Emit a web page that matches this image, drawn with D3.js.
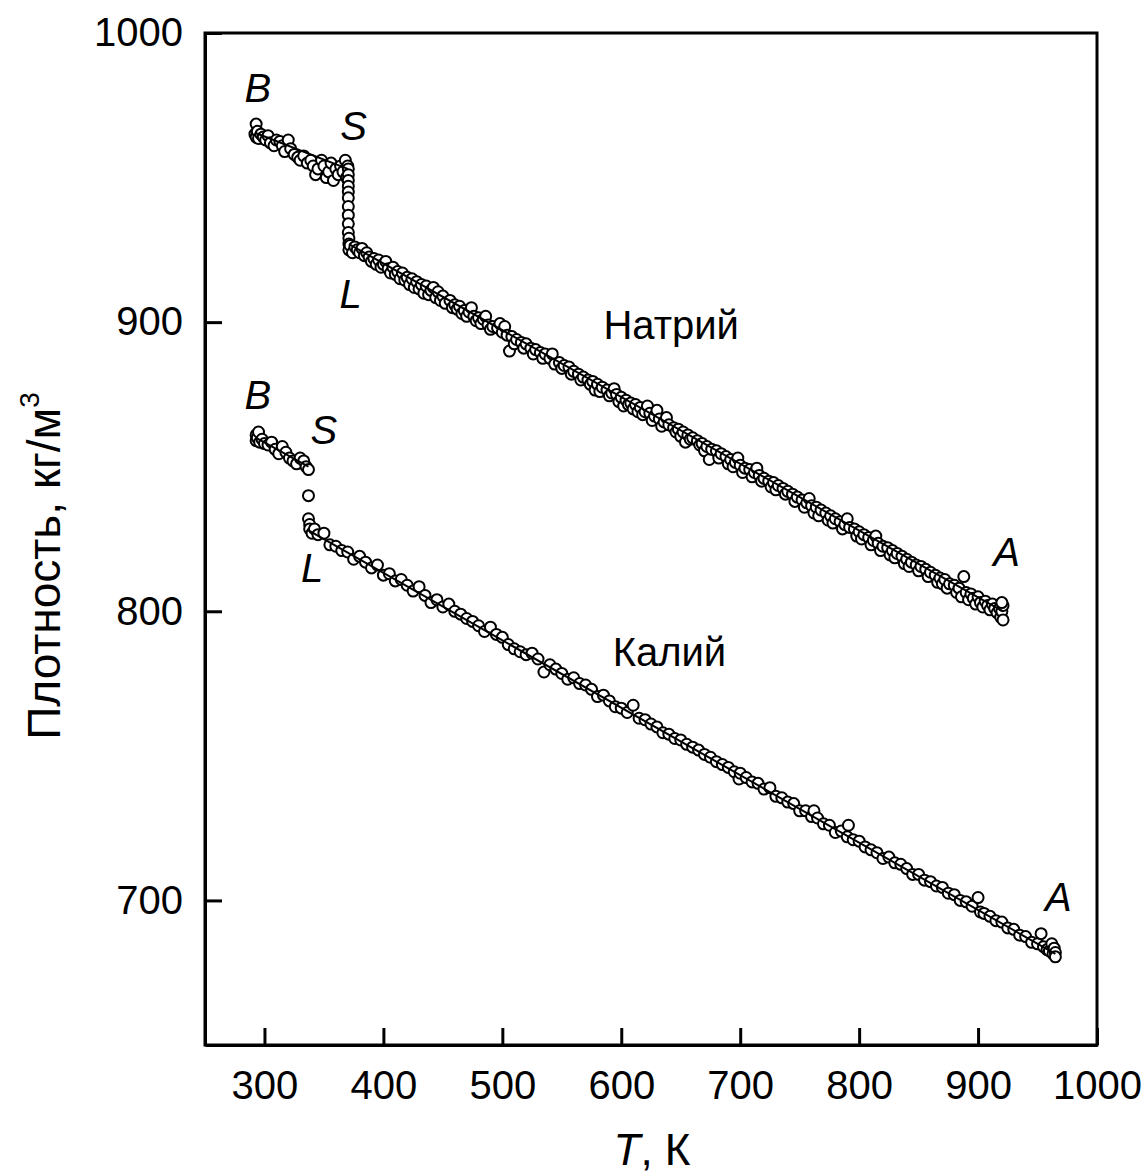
<!DOCTYPE html>
<meta charset="utf-8">
<style>
body { margin: 0; background: #fff; }
svg text { font-family: "Liberation Sans", Arial, sans-serif; fill: #000; }
.axis path, .axis line { stroke: #000; stroke-width: 3px; }
.axis text { font-size: 40px; }
.fit { fill: none; stroke: #000; stroke-width: 2px; }
.pt { fill: #fff; stroke: #000; stroke-width: 2px; }
.lbl { font-size: 40px; }
</style>
<body>
<script src="https://d3js.org/d3.v7.min.js"></script>
<script>

// tick values
var xTicks = [300, 400, 500, 600, 700, 800, 900, 1000];
var yTicks = [700, 800, 900, 1000];

// sodium: solid, melting step, liquid  [T, density]
var naSolid = [[292,965],[293,968.5],[293,964],[294,966],[295,963.5],[297,965],[299,964],[301,963],
  [303,964.5],[305,962],[308,961],[310,963],[313,962.5],[315,961],[317,959],[320,963],[322,960],
  [325,958],[328,957],[330,956],[333,957.5],[336,955],[339,956],[341,954],[343,951],[345,953],
  [348,956],[350,954],[352,950],[354,952],[356,955],[358,949],[360,953],[362,951],[364,954],
  [366,952],[368,956],[369,950],[370,954]];
var naMelt = [[370.5,953],[370.5,951],[370.5,949],[370.5,947],[370.5,945],[370.5,943],[370.5,940],
  [370.5,937],[370.5,934],[370.5,931],[371,929],[371,927],[371,925]];
var naLiquid = [[372,926.5],[374,924],[376,926],[378,925],[380,924],[382,925.5],[384,923],[386,924],
  [388,922.5],[390,921],[392,922],[394,920],[396,921.5],[398,919],[400,920],[402,921],[404,918.5],
  [406,917],[408,919],[410,916.5],[412,917.5],[414,915],[416,917],[418,914.5],[420,915.5],[422,913],
  [424,915],[426,912],[428,914],[430,911.5],[432,913],[434,910],[436,912.5],[438,909.5],[440,911],
  [442,912],[444,908.5],[446,910.5],[448,907.5],[450,909],[452,906.5],[456,907.5],[458,905],[460,906],
  [462,904.5],[464,905.5],[466,903],[468,904],[470,902],[472,903.5],[474,905],[476,902],[478,900.5],
  [480,901.5],[482,899.5],[484,901],[486,902],[488,899],[490,897.5],[492,898.5],[496,898],[498,899.5],
  [500,896.5],[502,898.5],[504,895.5],[506,890],[508,895],[510,892.5],[512,894],[516,893],[518,891],
  [520,892.5],[524,891],[526,889],[528,890.5],[532,889.5],[534,887.5],[536,889],[540,887.5],[542,889],
  [544,885.5],[548,886],[550,884],[552,885],[556,884.5],[558,882],[560,883],[564,882],[566,880],
  [568,881],[572,880],[574,878.5],[576,879.5],[578,876.5],[580,878.5],[582,876],[584,877.5],[588,876.5],
  [590,874.5],[592,875.5],[594,877],[596,875],[598,872.5],[600,874],[602,871],[604,873],[606,871.5],
  [608,872],[610,870],[612,871.5],[614,869],[616,870.5],[618,868],[620,869],[622,871],[624,868.5],
  [626,866],[628,867.5],[630,869.5],[632,866.5],[634,864],[636,865.5],[638,867],[640,864.5],[644,863.5],
  [646,862],[648,863],[650,860.5],[652,862],[654,858.5],[656,861],[658,859.5],[660,860],[664,859],
  [666,857.5],[668,858],[670,855.5],[672,857],[674,852.5],[676,856],[680,855.5],[682,853],[684,854.5],
  [688,853.5],[690,851],[692,852.5],[694,850],[696,851.5],[698,853],[700,850.5],[702,848],[704,849.5],
  [708,849],[710,846.5],[712,848],[714,849.5],[716,847],[718,845],[720,846],[724,845],[726,843],
  [728,844.5],[730,842],[732,843.5],[736,842.5],[738,840.5],[740,841.5],[744,840.5],[746,838],
  [748,839.5],[752,838.5],[754,836],[756,837.5],[758,839],[760,836.5],[762,834],[764,836],[766,833],
  [768,835],[772,834],[774,831.5],[776,833],[778,830.5],[780,832],[784,831],[786,828.5],[788,830],
  [790,832],[792,829],[796,828.5],[798,826],[800,827.5],[802,825],[804,826.5],[808,825.5],[810,823],
  [812,824.5],[814,826],[816,823.5],[818,821],[820,822.5],[824,822],[826,819.5],[828,821],[830,818.5],
  [832,820],[836,819],[838,816.5],[840,818],[842,815.5],[844,817],[848,816],[850,814],[852,815.5],
  [856,814.5],[858,812],[860,813.5],[864,812.5],[866,810],[868,811.5],[870,809.5],[872,811],[874,808],
  [876,809.5],[880,809],[882,806.5],[884,808],[886,805],[888,812],[890,806.5],[892,804],[894,806],
  [896,804.5],[898,802.5],[900,805],[902,803],[904,801.5],[906,803.5],[908,802],[910,800.5],[912,802.5],
  [914,801],[916,799.5],[918,801],[919,798],[920,800],[921,797],[921,802],[920,803]];

// potassium
var kSolid = [[293,861],[293,859],[294,860],[295,862],[296,858.5],[298,859.5],[300,858],[303,857.5],
  [306,858.5],[309,856],[312,854.5],[315,857],[318,855],[321,853],[324,852],[327,851],[330,853],
  [333,852],[335,850],[337,849]];
var kMelt = [[337,840],[337,832],[338,830],[338,828.5]];
var kLiquid = [[340,827],[342,828.5],[345,826.5],[350,827],[355,823],[360,822.5],[365,821],[370,820.5],
  [375,818],[380,819],[385,817],[390,815],[395,816],[400,812.5],[405,813],[410,810.5],[415,811],
  [420,809],[425,807],[430,808.5],[435,805.5],[440,803],[445,804],[450,801.5],[455,802.5],[460,800],
  [465,799],[470,797.5],[475,796.5],[480,795],[485,793],[490,794.5],[495,792],[500,791],[505,788.5],
  [510,787],[515,786],[520,785],[525,785.5],[530,783.5],[535,779],[540,781.5],[545,780],[550,778.5],
  [555,776.5],[560,777],[565,775],[570,774.5],[575,773],[580,770.5],[585,771],[590,769],[595,767],
  [600,766.5],[605,765],[610,767.5],[615,763],[620,762.5],[625,761],[630,760],[635,758],[640,757.5],
  [645,756],[650,755.5],[655,754],[660,753],[665,752],[670,750.5],[675,749.5],[680,748],[685,747],
  [690,746],[695,744.5],[699,742],[700,744],[705,742.5],[710,741],[715,740.5],[720,738.5],[725,739],
  [730,736],[735,735.5],[740,734],[745,733.5],[750,731],[755,731],[760,729],[762,731],[765,728.5],
  [770,726.5],[775,726],[780,723.5],[785,724],[790,722],[791,726],[795,721],[800,720.5],[805,718.5],
  [810,717.5],[815,716.5],[820,714.5],[825,715],[830,713],[835,712.5],[840,711],[845,709],[850,709],
  [855,707],[860,706.5],[865,705],[870,704.5],[875,702.5],[880,702],[885,700],[890,699.5],[895,698],
  [900,701],[902,696],[905,695.5],[910,694.5],[915,693],[920,692.5],[925,690.5],[930,690],[935,688],
  [940,687.5],[945,685.5],[950,685],[953,688.5],[955,684],[958,683],[960,682.5],[962,685],[963,681.5],
  [964,683.5],[965,682],[965,680.5]];

// fitted lines
var naSolidFit = [[292,965.5],[370,953]];
var naLiquidFit = [[371,927],[921,800]];
var kSolidFit = [[293,860],[337,850]];
var kLiquidFit = [[337,828],[965,681.5]];

// point labels
var labels = [
  {t: "B", T: 294.5, r: 976, it: true}, {t: "S", T: 375, r: 963, it: true},
  {t: "L", T: 372.5, r: 905, it: true}, {t: "A", T: 924, r: 815.5, it: true},
  {t: "Натрий", T: 642, r: 894, it: false},
  {t: "B", T: 294.5, r: 870, it: true}, {t: "S", T: 350, r: 858, it: true},
  {t: "L", T: 340, r: 810, it: true}, {t: "A", T: 967.5, r: 696.5, it: true},
  {t: "Калий", T: 640.5, r: 781, it: false}
];

var margin = {top: 33, right: 49, bottom: 131, left: 205},
    width = 1146 - margin.left - margin.right,
    height = 1176 - margin.top - margin.bottom;

var x = d3.scaleLinear().domain([250, 1000]).range([0, width]);
var y = d3.scaleLinear().domain([650, 1000]).range([height, 0]);

var svg = d3.select("body").append("svg")
    .attr("width", 1146)
    .attr("height", 1176)
  .append("g")
    .attr("transform", "translate(" + margin.left + "," + margin.top + ")");

// axes, ticks pointing inward
svg.append("g")
    .attr("class", "axis")
    .attr("transform", "translate(0," + height + ")")
    .call(d3.axisBottom(x).tickValues(xTicks).tickFormat(d3.format("d"))
      .tickSizeInner(-17).tickSizeOuter(0).tickPadding(26));
svg.append("g")
    .attr("class", "axis")
    .call(d3.axisLeft(y).tickValues(yTicks).tickFormat(d3.format("d"))
      .tickSizeInner(-17).tickSizeOuter(0).tickPadding(22));

// frame
svg.append("rect")
    .attr("width", width).attr("height", height)
    .attr("fill", "none").attr("stroke", "#000").attr("stroke-width", 3);

var line = d3.line()
    .x(function(d) { return x(d[0]); })
    .y(function(d) { return y(d[1]); });

// points
var allPts = [].concat(naSolid, naMelt, naLiquid, kSolid, kMelt, kLiquid);
svg.selectAll("circle.pt")
    .data(allPts)
  .enter().append("circle")
    .attr("class", "pt")
    .attr("cx", function(d) { return x(d[0]); })
    .attr("cy", function(d) { return y(d[1]); })
    .attr("r", 5.5);

// fit lines on top
[naSolidFit, naLiquidFit, kSolidFit, kLiquidFit].forEach(function(f) {
  svg.append("path").attr("class", "fit").attr("d", line(f));
});

// labels
svg.selectAll("text.lbl")
    .data(labels)
  .enter().append("text")
    .attr("class", "lbl")
    .attr("x", function(d) { return x(d.T); })
    .attr("y", function(d) { return y(d.r); })
    .attr("text-anchor", "middle")
    .style("font-style", function(d) { return d.it ? "italic" : "normal"; })
    .text(function(d) { return d.t; });

// x title
var xt = svg.append("text")
    .attr("x", 652 - margin.left)
    .attr("y", 1165 - margin.top)
    .attr("text-anchor", "middle")
    .style("font-size", "44px");
xt.append("tspan").style("font-style", "italic").text("T");
xt.append("tspan").text(", К");

// y title
var yt = svg.append("text")
    .attr("transform", "rotate(-90)")
    .attr("x", -(566 - margin.top))
    .attr("y", 60 - margin.left)
    .attr("text-anchor", "middle")
    .style("font-size", "46px");
yt.append("tspan").text("Плотность, кг/м");
yt.append("tspan").attr("dy", "-0.75em").style("font-size", "28px").text("3");

</script>
</body>
